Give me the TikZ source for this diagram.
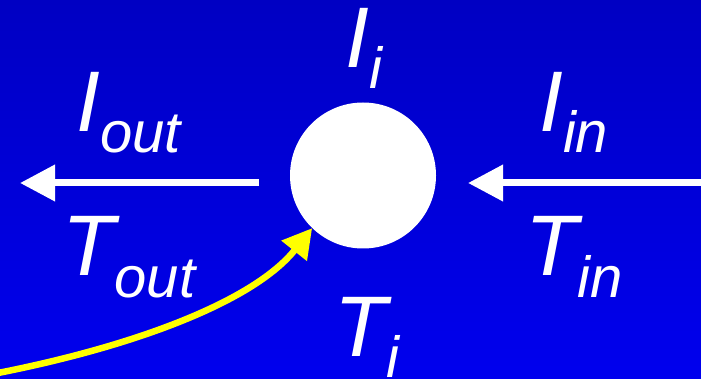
\documentclass[tikz,border=0pt]{standalone}
\usepackage{fontspec}
\setmainfont{Liberation Sans}
\usetikzlibrary{arrows.meta}
\definecolor{bgtop}{RGB}{0,0,195}
\definecolor{bgbot}{RGB}{0,0,238}
\definecolor{hot}{RGB}{255,255,0}
\newcommand{\mainsym}[1]{{\fontsize{86}{86}\selectfont\itshape #1}}
\newcommand{\subsym}[1]{\raisebox{-21pt}{\fontsize{58}{58}\selectfont\itshape #1}}
\tikzset{
  lbl/.style={anchor=base west, inner sep=0pt, text=white},
  flow/.style={white, line width=7pt, -{Triangle[length=35pt,width=35pt]}},
  heat/.style={hot, line width=6.5pt, -{Triangle[length=29pt,width=31pt]}},
}
\begin{document}
\begin{tikzpicture}[x=1pt,y=-1pt]
\useasboundingbox (0,0) rectangle (701,379);
\shade[top color=bgtop, bottom color=bgbot] (0,0) rectangle (701,379);
\node[circle, fill=white, minimum size=146pt, inner sep=0pt] (c) at (363,175.5) {};
\coordinate (ls) at (259,183);
\coordinate (le) at (20,183);
\coordinate (rs) at (701,183);
\coordinate (re) at (468,183);
\coordinate (ys) at (-2,373);
\draw[flow] (ls) -- (le);
\draw[flow] (rs) -- (re);
\draw[heat] (ys) .. controls (140,345) and (255,300) .. (c.226);
\node[lbl] (ii) at (345,68) {\mainsym{I}\subsym{i}};
\node[lbl] (iout) at (76,132) {\mainsym{I}\subsym{out}};
\node[lbl] (iin) at (539,132) {\mainsym{I}\subsym{in}};
\node[lbl] (tout) at (62,276) {\mainsym{T}\subsym{out}};
\node[lbl] (tin) at (525,276) {\mainsym{T}\subsym{in}};
\node[lbl] (ti) at (334,356) {\mainsym{T}\subsym{i}};
\end{tikzpicture}
\end{document}
